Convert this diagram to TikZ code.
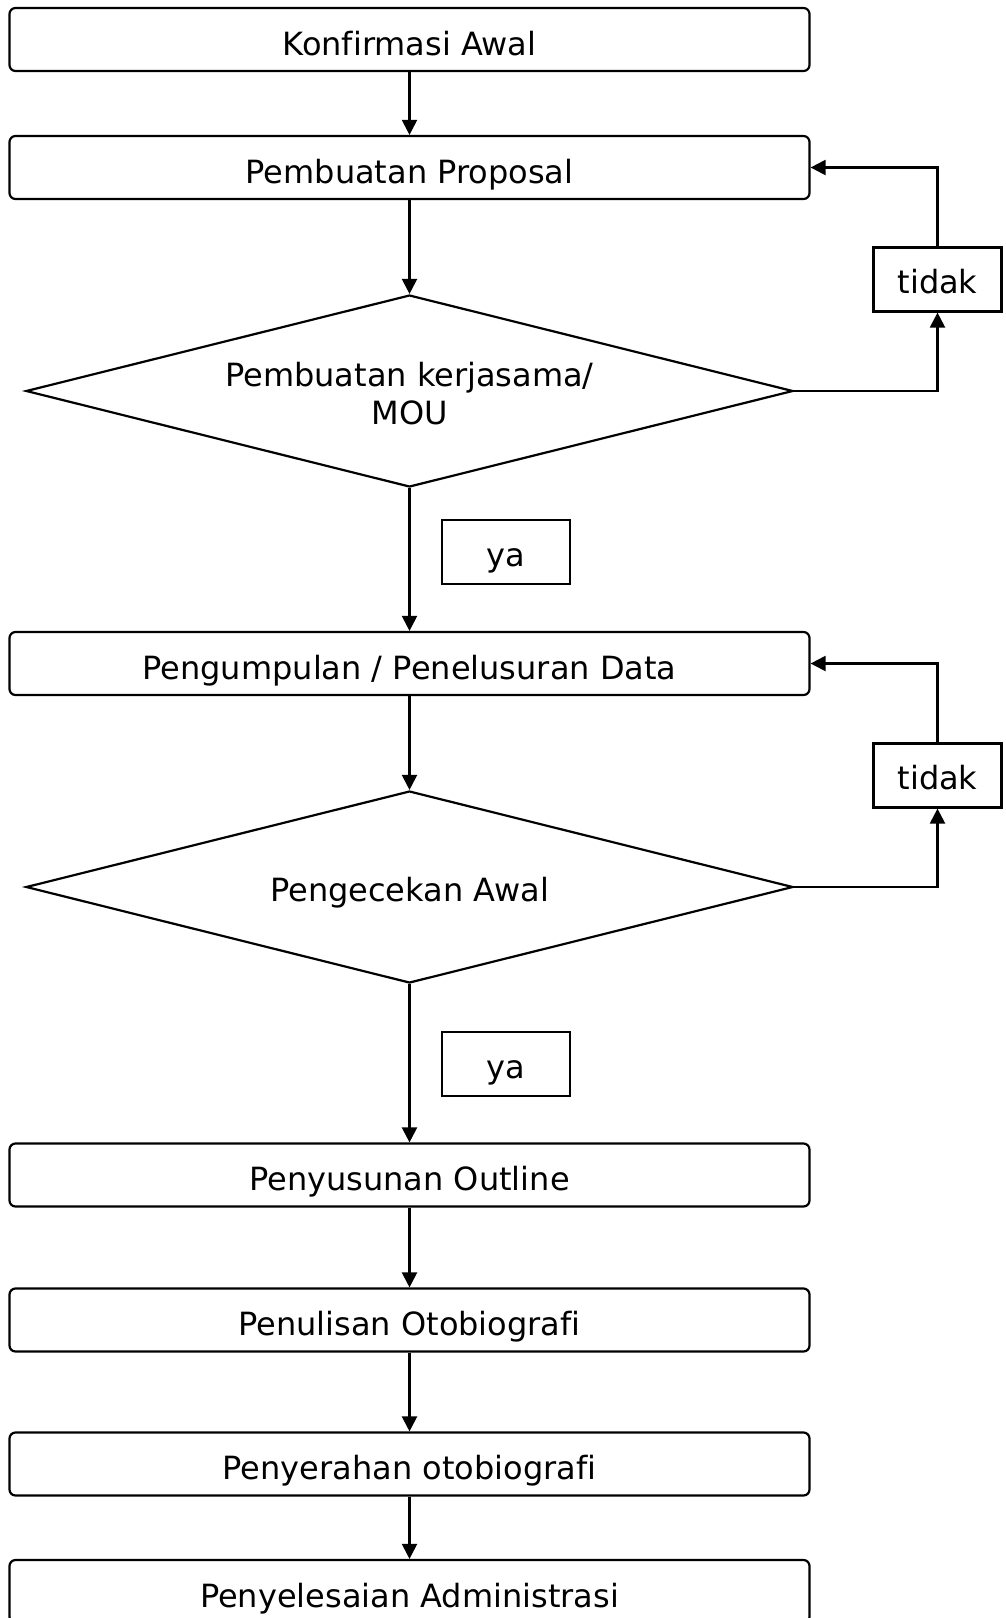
\documentclass[tikz,border=0pt]{standalone}
\usepackage{fontspec}
\setmainfont[Ligatures=NoCommon]{DejaVu Sans}
\usetikzlibrary{arrows.meta,shapes.geometric}
\begin{document}
\begin{tikzpicture}[x=1pt,y=-1pt,
  line width=2.2pt,
  font=\fontsize{32}{38}\selectfont,
  procbox/.style={draw, rounded corners=6pt, minimum width=800pt, minimum height=63pt, inner sep=0pt, text height=31pt, text depth=0pt},
  decision/.style={draw, diamond, minimum width=767pt, minimum height=192pt, inner sep=0pt},
  tagbox/.style={draw, minimum width=128pt, minimum height=64pt, inner sep=0pt, text height=28pt, text depth=0pt},
  flow/.style={-{Triangle[length=15pt,width=15pt]}}
]
\clip (0,0) rectangle (1006,1618);
\fill[white] (0,0) rectangle (1006,1618);

% main column
\node[procbox] (konf) at (409.5,39.5) {Konfirmasi Awal};
\node[procbox] (prop) at (409.5,167.5) {Pembuatan Proposal};
\node[decision] (mou) at (409.5,391) {};
\node[anchor=base, inner sep=0pt] (moutxt1) at (409.5,386) {Pembuatan kerjasama/};
\node[anchor=base, inner sep=0pt] (moutxt2) at (409.5,424) {MOU};
\node[procbox] (data) at (409.5,663.5) {Pengumpulan / Penelusuran Data};
\node[decision] (cek) at (409.5,887) {};
\node[anchor=base, inner sep=0pt] (cektxt) at (409.5,901) {Pengecekan Awal};
\node[procbox] (outl) at (409.5,1175) {Penyusunan Outline};
\node[procbox] (tulis) at (409.5,1320) {Penulisan Otobiografi};
\node[procbox] (serah) at (409.5,1464) {Penyerahan otobiografi};
\node[procbox] (admin) at (409.5,1591.5) {Penyelesaian Administrasi};

% answer labels
\node[tagbox] (ya1) at (506,552) {ya};
\node[tagbox] (ya2) at (506,1064) {ya};
\node[tagbox] (tidak1) at (937.5,279.5) {tidak};
\node[tagbox] (tidak2) at (937.5,775.5) {tidak};

% forward flow
\draw[flow] (konf) -- (prop);
\draw[flow] (prop) -- (mou);
\draw[flow] (mou) -- (data);
\draw[flow] (data) -- (cek);
\draw[flow] (cek) -- (outl);
\draw[flow] (outl) -- (tulis);
\draw[flow] (tulis) -- (serah);
\draw[flow] (serah) -- (admin);

% loops back on "tidak"
\draw[flow] (mou.east) -| (tidak1.south);
\draw[flow] (tidak1.north) |- (prop.east);
\draw[flow] (cek.east) -| (tidak2.south);
\draw[flow] (tidak2.north) |- (data.east);
\end{tikzpicture}
\end{document}
